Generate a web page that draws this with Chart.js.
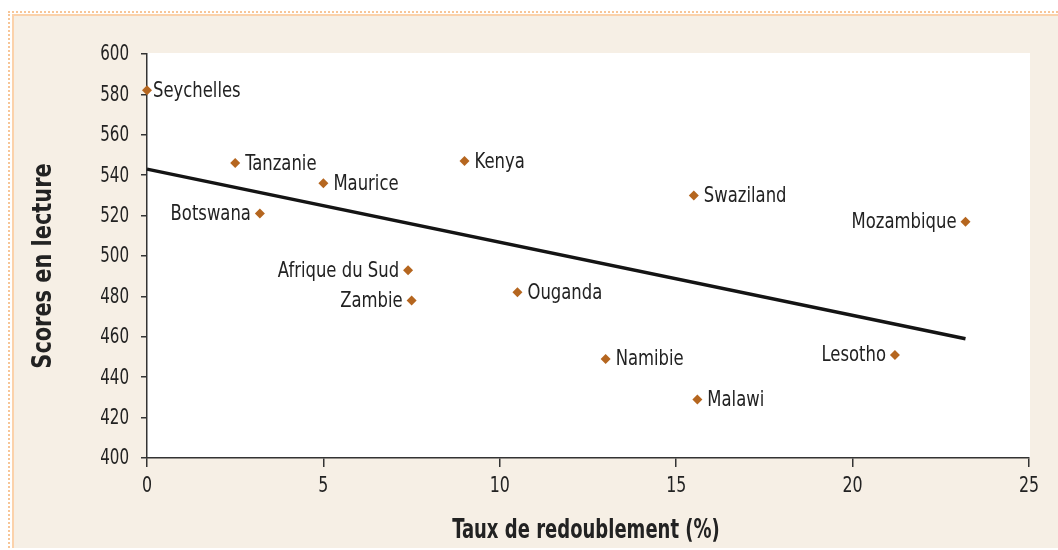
<!DOCTYPE html>
<html>
<head>
<meta charset="utf-8">
<script src="https://cdn.jsdelivr.net/npm/chart.js@4.4.1/dist/chart.umd.min.js"></script>
<style>
  html, body { margin: 0; padding: 0; background: #ffffff; width: 1058px; height: 550px; overflow: hidden; }
  #frame { position: absolute; left: 8px; top: 11px; width: 1200px; height: 535px; border-top: 2px dotted #f7c597; border-left: 2px dotted #f7c597; }
  #inner { position: absolute; left: 2px; top: 1px; right: 0; bottom: 0; border-top: 2px solid #fbd2ab; border-left: 2px solid #fbd2ab; background: #f6efe5; }
  #wrap { position: absolute; left: 0; top: 0; width: 1058px; height: 550px; }
</style>
</head>
<body>
<div id="frame"><div id="inner"></div></div>
<div id="wrap"><canvas id="c" width="1058" height="550"></canvas></div>
<script>
// ---- Data ----
const countries = ["Seychelles", "Tanzanie", "Maurice", "Botswana", "Kenya", "Swaziland", "Mozambique",
                   "Afrique du Sud", "Zambie", "Ouganda", "Namibie", "Lesotho", "Malawi"];
const repetitionRate = [0, 2.5, 5.0, 3.2, 9.0, 15.5, 23.2, 7.4, 7.5, 10.5, 13.0, 21.2, 15.6];
const readingScores = [582, 546, 536, 521, 547, 530, 517, 493, 478, 482, 449, 451, 429];
const labelSide = ["right", "right", "right", "left", "right", "right", "left",
                   "left", "left", "right", "right", "left", "right"];
const trendX = [0, 23.2];
const trendY = [543, 459];
const xTicks = [0, 5, 10, 15, 20, 25];
const yTicks = [400, 420, 440, 460, 480, 500, 520, 540, 560, 580, 600];
const xTitle = "Taux de redoublement (%)";
const yTitle = "Scores en lecture";

const FONT = "'Liberation Sans Narrow', 'DejaVu Sans Condensed', 'Arial Narrow', sans-serif";
const TEXT = "#222222";

// draw text compressed horizontally (condensed look)
function narrowText(ctx, text, x, y, align, sx) {
  ctx.save();
  ctx.translate(x, y);
  ctx.scale(sx, 1);
  ctx.textAlign = align;
  ctx.fillText(text, 0, 0);
  ctx.restore();
}

const plotBg = {
  id: "plotBg",
  beforeDraw(chart) {
    const { ctx, chartArea: a } = chart;
    ctx.save();
    ctx.fillStyle = "#ffffff";
    ctx.fillRect(a.left, a.top - 1, a.right - a.left + 1, a.bottom - a.top + 1);
    ctx.restore();
  }
};

const tickLabels = {
  id: "tickLabels",
  afterDraw(chart) {
    const { ctx, scales } = chart;
    ctx.save();
    ctx.fillStyle = TEXT;
    ctx.textBaseline = "middle";
    ctx.font = "21px " + FONT;
    yTicks.forEach(v => {
      narrowText(ctx, String(v), 129, scales.y.getPixelForValue(v) + 1, "right", 0.8);
    });
    ctx.font = "22px " + FONT;
    xTicks.forEach(v => {
      narrowText(ctx, String(v), scales.x.getPixelForValue(v), scales.x.top + 28, "center", 0.8);
    });
    ctx.restore();
  }
};

const pointLabels = {
  id: "pointLabels",
  afterDatasetsDraw(chart) {
    const { ctx } = chart;
    const meta = chart.getDatasetMeta(0);
    ctx.save();
    ctx.font = "21px " + FONT;
    ctx.fillStyle = TEXT;
    ctx.textBaseline = "middle";
    meta.data.forEach((pt, i) => {
      const side = labelSide[i];
      const dx = side === "left" ? -9 : (repetitionRate[i] === 0 ? 6 : 10);
      narrowText(ctx, countries[i], pt.x + dx, pt.y + 1, side === "left" ? "right" : "left", 0.87);
    });
    ctx.restore();
  }
};

const axisTitles = {
  id: "axisTitles",
  afterDraw(chart) {
    const { ctx } = chart;
    ctx.save();
    ctx.fillStyle = TEXT;
    ctx.textBaseline = "middle";
    ctx.font = "bold 26px " + FONT;
    narrowText(ctx, xTitle, 586, 531, "center", 0.77);
    ctx.translate(44, 266);
    ctx.rotate(-Math.PI / 2);
    ctx.font = "bold 27px " + FONT;
    narrowText(ctx, yTitle, 0, 0, "center", 0.86);
    ctx.restore();
  }
};

new Chart(document.getElementById("c"), {
  type: "scatter",
  data: {
    datasets: [
      {
        label: "Pays",
        data: repetitionRate.map((x, i) => ({ x: x, y: readingScores[i] })),
        pointStyle: "rectRot",
        pointRadius: 5,
        pointHoverRadius: 5,
        backgroundColor: "#b5661f",
        borderColor: "#b5661f",
        borderWidth: 0,
        clip: false,
        order: 1
      },
      {
        type: "line",
        label: "Tendance",
        data: trendX.map((x, i) => ({ x: x, y: trendY[i] })),
        borderColor: "#141414",
        borderWidth: 3.5,
        pointRadius: 0,
        fill: false,
        clip: false,
        order: 2
      }
    ]
  },
  options: {
    responsive: false,
    animation: false,
    events: [],
    layout: { padding: { top: 54, right: 29, left: 0, bottom: 0 } },
    plugins: {
      legend: { display: false },
      tooltip: { enabled: false },
      title: { display: false }
    },
    scales: {
      x: {
        type: "linear",
        min: 0, max: 25,
        afterFit(s) { s.height = 92; },
        afterBuildTicks(s) { s.ticks = xTicks.map(v => ({ value: v })); },
        border: { display: true, color: "#333333", width: 1.5 },
        grid: { display: true, drawOnChartArea: false, drawTicks: true, tickLength: 9, color: "#333333", lineWidth: 1.5 },
        ticks: { display: false },
        title: { display: false }
      },
      y: {
        type: "linear",
        min: 400, max: 600,
        afterFit(s) { s.width = 147; },
        afterBuildTicks(s) { s.ticks = yTicks.map(v => ({ value: v })); },
        border: { display: true, color: "#333333", width: 1.5 },
        grid: { display: true, drawOnChartArea: false, drawTicks: true, tickLength: 6, color: "#333333", lineWidth: 1.5 },
        ticks: { display: false },
        title: { display: false }
      }
    }
  },
  plugins: [plotBg, tickLabels, pointLabels, axisTitles]
});
</script>
</body>
</html>
